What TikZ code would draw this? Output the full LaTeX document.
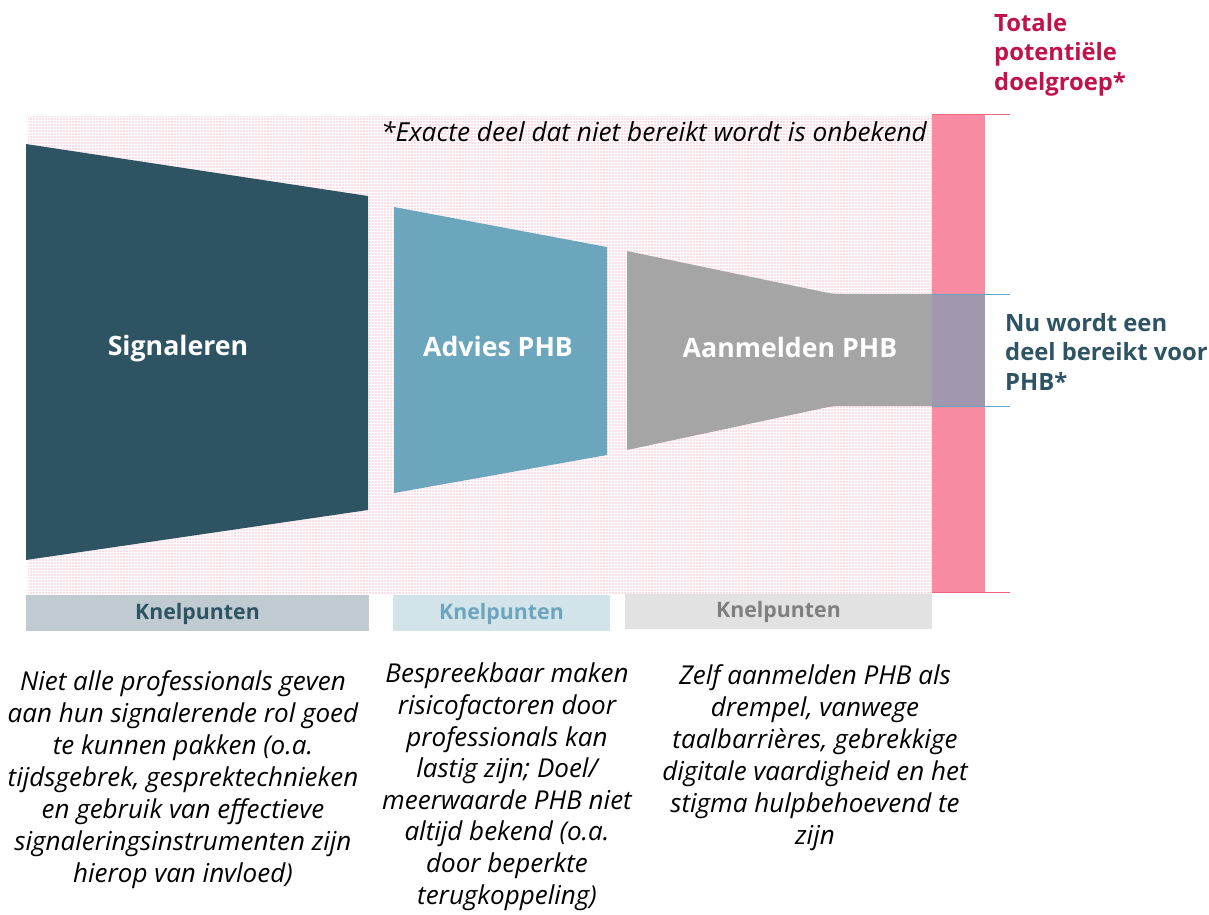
\documentclass[tikz,border=0pt]{standalone}
\usepackage{fontspec}
\setmainfont{Open Sans}
\usetikzlibrary{patterns.meta}
\definecolor{teal}{HTML}{2E5464}
\definecolor{advies}{HTML}{6BA6BD}
\definecolor{grayshape}{HTML}{A5A5A5}
\definecolor{pinkbar}{HTML}{F78BA1}
\definecolor{purpleov}{HTML}{A198AF}
\definecolor{crimson}{HTML}{C0134A}
\definecolor{knelA}{HTML}{BFCBD1}
\definecolor{knelB}{HTML}{D2E3E9}
\definecolor{knelC}{HTML}{E2E2E2}
\definecolor{knelCtext}{HTML}{7F7F7F}
\definecolor{blueline}{HTML}{5FA7C2}
\definecolor{pinkline}{HTML}{F0647F}
\definecolor{dotpink}{HTML}{FBB0C3}
\tikzdeclarepattern{
  name=pdots,
  type=uncolored,
  bounding box={(0pt,0pt) and (3pt,3pt)},
  tile size={(3pt,3pt)},
  code={\fill (0.5pt,0.5pt) rectangle (2.3pt,2.3pt);}
}
\begin{document}
\begin{tikzpicture}[x=1pt,y=-1pt,
  lbl/.style={font=\fontsize{26.7}{30}\selectfont\bfseries, text=white, inner sep=0},
  knel/.style={font=\fontsize{21.3}{24}\selectfont\bfseries, inner sep=0},
  body/.style={font=\fontsize{26}{32}\selectfont\itshape, align=center, inner sep=0, anchor=north},
  side/.style={font=\fontsize{23.8}{29.5}\selectfont\bfseries, align=left, inner sep=0, anchor=north west}
]
\useasboundingbox (0,0) rectangle (1209,914);
% dotted background
\fill[pattern=pdots, pattern color=dotpink] (28,116) rectangle (932,594);
% pink bar
\fill[pinkbar] (932,115) rectangle (985,593);
\draw[pinkline, line width=1.2pt] (932,114.5) -- (1010,114.5);
\draw[pinkline, line width=1.5pt] (932,592.5) -- (1010,592.5);
% shapes
\fill[teal] (26,144) -- (368,196) -- (368,510) -- (26,560) -- cycle;
\fill[advies] (394,207) -- (607,247) -- (607,455) -- (394,493) -- cycle;
\fill[grayshape] (627,251) -- (826,292.5) .. controls (832,293.7) and (836,294) .. (845,294) -- (932,294) -- (932,406) -- (845,406) .. controls (836,406) and (832,406.3) .. (826,407.5) -- (627,450) -- cycle;
\fill[purpleov] (932,294) rectangle (985,406);
\draw[blueline, line width=1pt] (932,294) -- (1010,294);
\draw[blueline, line width=1pt] (932,406) -- (1010,406);
% labels
\node[lbl] (sig) at (178,349) {Signaleren};
\node[lbl] (adv) at (498,346) {Advies PHB};
\node[lbl] (aan) at (790,347) {Aanmelden PHB};
\node[font=\fontsize{26.2}{30}\selectfont\itshape, inner sep=0] (exact) at (654,132) {*Exacte deel dat niet bereikt wordt is onbekend};
% knelpunten
\fill[knelA] (26,595) rectangle (369,631);
\node[knel, text=teal] (k1) at (197.5,613.5) {Knelpunten};
\fill[knelB] (393,595) rectangle (610,631);
\node[knel, text=advies] (k2) at (501.5,613.5) {Knelpunten};
\fill[knelC] (625,594) rectangle (932,629);
\node[knel, text=knelCtext] (k3) at (778.5,611.5) {Knelpunten};
% side texts
\node[side, text=crimson] (tot) at (994,13) {Totale\\potentiële\\doelgroep*};
\node[side, text=teal] (nu) at (1005,313) {Nu wordt een\\deel bereikt voor\\PHB*};
% body texts
\node[body] (t1) at (183,670) {Niet alle professionals geven\\aan hun signalerende rol goed\\te kunnen pakken (o.a.\\tijdsgebrek, gesprektechnieken\\en gebruik van effectieve\\signaleringsinstrumenten zijn\\hierop van invloed)};
\node[body, font=\fontsize{26}{31.6}\selectfont\itshape] (t2) at (507,663) {Bespreekbaar maken\\risicofactoren door\\professionals kan\\lastig zijn; Doel/\\meerwaarde PHB niet\\altijd bekend (o.a.\\door beperkte\\terugkoppeling)};
\node[body] (t3) at (815,664) {Zelf aanmelden PHB als\\drempel, vanwege\\taalbarrières, gebrekkige\\digitale vaardigheid en het\\stigma hulpbehoevend te\\zijn};
\end{tikzpicture}
\end{document}
